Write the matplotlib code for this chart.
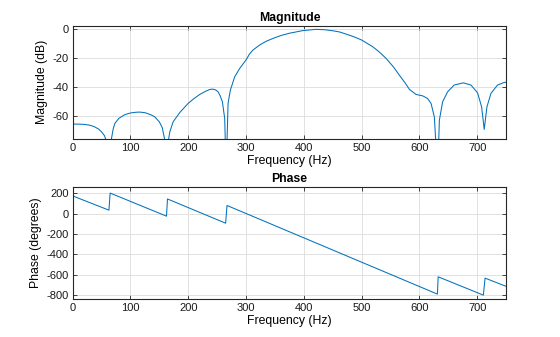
import matplotlib
matplotlib.use("Agg")
import matplotlib.pyplot as plt

# magnitude response (Hz, dB); nulls go below the axis
mag_freq = [0, 10, 20, 30, 38, 45, 50, 55, 57, 60, 62, 64, 67, 70, 73, 80, 90, 100,
            110, 116, 125, 135, 142, 150, 155, 159, 163, 166, 168, 173.8, 185.3,
            199.7, 210, 219.9, 230, 237, 241.8, 247, 251.5, 255, 259, 263, 265.5,
            268.8, 272.8, 280.3, 289, 295, 300.5, 306, 312, 323.5, 335, 346.5, 360,
            375, 398, 421, 437, 450, 461.5, 473, 487, 500, 519, 530, 542, 555, 565,
            574, 582.6, 594, 605.6, 614, 620, 625.7, 631.5, 634.4, 640, 648.7, 660,
            676, 689, 700.5, 707.5, 712, 716.7, 723.6, 735, 746.6, 750]
mag_db = [-65.5, -65.5, -65.7, -66.3, -67.4, -69, -70.9, -73.5, -75.8, -82, -100, -85,
          -75.8, -69, -65, -61.5, -59, -57.8, -57.3, -57.2, -57.6, -59, -60.5, -64,
          -68, -75.8, -100, -75.8, -70.9, -63.9, -57.5, -51.2, -47.8, -45, -42.8,
          -41.6, -41.3, -41.8, -43.2, -45.8, -50.1, -61.6, -100, -51.2, -42, -32.8,
          -27, -23.8, -20.8, -17, -14.3, -10.8, -8.2, -6.3, -4.3, -2.7, -0.9, 0,
          -0.3, -1, -1.8, -3.3, -5.2, -7.4, -12, -15.5, -20, -26, -31.6, -36.4,
          -41.5, -45, -46, -47.8, -51.2, -60.5, -100, -62.8, -50.1, -43.2, -38.5,
          -37, -38.5, -43.9, -53.6, -69.2, -53.6, -44.3, -38.5, -36.7, -36.6]

# phase: straight runs with jumps at the nulls
ph_freq = [0, 62.7, 64.8, 162.3, 164, 264.6, 267, 631, 632.3, 710.5, 713.5, 750]
ph_deg = [173, 33, 201, -26, 143, -95, 79, -792, -622, -802, -635, -716]

plt.rcParams['font.family'] = ['Liberation Sans', 'DejaVu Sans']
plt.rcParams['axes.unicode_minus'] = False

line_col = '#0072BD'
edge_col = '#262626'

fig = plt.figure(figsize=(5.6, 3.37), dpi=100)
ax1 = fig.add_axes([0.1298, 0.5884, 0.7741, 0.3353])
ax2 = fig.add_axes([0.1298, 0.1128, 0.7741, 0.3315])


def style(ax):
    ax.grid(True, color='#dcdcdc', linewidth=0.6)
    ax.set_axisbelow(True)
    for s in ax.spines.values():
        s.set_color(edge_col)
        s.set_linewidth(0.8)
    ax.tick_params(direction='in', length=3, width=0.6, colors=edge_col,
                   labelcolor='#1a1a1a', labelsize=8, top=True, right=True, pad=3)
    ax.set_xlim(0, 750)
    ax.set_xticks([0, 100, 200, 300, 400, 500, 600, 700])


ax1.plot(mag_freq, mag_db, color=line_col, linewidth=0.75)
style(ax1)
ax1.set_ylim(-75.6, 2.5)
ax1.set_yticks([0, -20, -40, -60])
ax1.set_title('Magnitude', fontsize=8.8, fontweight='bold', pad=3.5)
ax1.set_xlabel('Frequency (Hz)', fontsize=8.8, labelpad=1.5)
ax1.set_ylabel('Magnitude (dB)', fontsize=8.8, labelpad=3)

ax2.plot(ph_freq, ph_deg, color=line_col, linewidth=0.75)
style(ax2)
ax2.set_ylim(-840, 258)
ax2.set_yticks([200, 0, -200, -400, -600, -800])
ax2.set_title('Phase', fontsize=8.8, fontweight='bold', pad=3.5)
ax2.set_xlabel('Frequency (Hz)', fontsize=8.8, labelpad=1.5)
ax2.set_ylabel('Phase (degrees)', fontsize=8.8, labelpad=3)

fig.savefig('out.png', dpi=100)
